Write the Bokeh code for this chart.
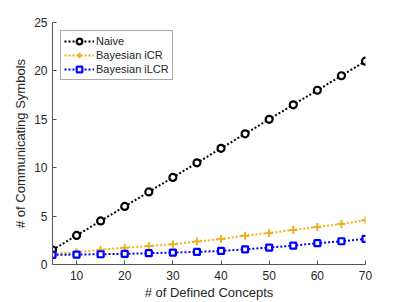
from bokeh.plotting import figure
from bokeh.models import Range1d, FixedTicker, Legend, LegendItem
from bokeh.embed import file_html
from bokeh.resources import INLINE

concepts = [5, 10, 15, 20, 25, 30, 35, 40, 45, 50, 55, 60, 65, 70]
naive = [1.5, 3, 4.5, 6, 7.5, 9, 10.5, 12, 13.5, 15, 16.5, 18, 19.5, 21]
icr = [1.1, 1.27, 1.52, 1.74, 1.9, 2.1, 2.37, 2.64, 2.97, 3.26, 3.57, 3.88, 4.19, 4.57]
ilcr = [1.0, 1.03, 1.06, 1.1, 1.17, 1.23, 1.3, 1.4, 1.57, 1.75, 1.95, 2.2, 2.4, 2.64]
x_ticks = [10, 20, 30, 40, 50, 60, 70]
y_ticks = [0, 5, 10, 15, 20, 25]

FONT = "Liberation Sans"
TXT = "#262626"
LINE = "#555555"

p = figure(width=400, height=302, output_backend="svg", toolbar_location=None,
           x_range=Range1d(5, 70), y_range=Range1d(0, 25),
           min_border_left=52, min_border_right=35, min_border_top=22, min_border_bottom=36)
p.outline_line_color = None
p.grid.visible = False

for ax in (p.xaxis[0], p.yaxis[0]):
    ax.major_tick_in = 4
    ax.major_tick_out = 0
    ax.minor_tick_line_color = None
    ax.axis_line_color = LINE
    ax.major_tick_line_color = LINE
    ax.major_label_text_color = TXT
    ax.major_label_text_font = FONT
    ax.major_label_text_font_size = "12px"
    ax.axis_label_text_font = FONT
    ax.axis_label_text_font_size = "13px"
    ax.axis_label_text_font_style = "normal"
    ax.axis_label_text_color = TXT

p.xaxis.ticker = FixedTicker(ticks=x_ticks)
p.yaxis.ticker = FixedTicker(ticks=y_ticks)
p.xaxis.axis_label = "# of Defined Concepts"
p.yaxis.axis_label = "# of Communicating Symbols"
p.xaxis.major_label_standoff = 6
p.xaxis.axis_label_standoff = 2
p.yaxis.major_label_standoff = 5
p.yaxis.axis_label_standoff = 3

dash = "2 2"
l1 = p.line(concepts, naive, line_color="black", line_width=2, line_dash=dash)
m1 = p.scatter(concepts, naive, marker="circle", size=7, line_color="black", line_width=2.2, fill_color="white")
l2 = p.line(concepts, icr, line_color="#EDB120", line_width=2, line_dash=dash)
m2 = p.scatter(concepts, icr, marker="cross", size=8, line_color="#EDB120", line_width=2)
l3 = p.line(concepts, ilcr, line_color="#0000FF", line_width=2, line_dash=dash)
m3 = p.scatter(concepts, ilcr, marker="square", size=6, line_color="#0000FF", line_width=2.2, fill_color="white")

legend = Legend(items=[
    LegendItem(label="Naive", renderers=[l1, m1]),
    LegendItem(label="Bayesian iCR", renderers=[l2, m2]),
    LegendItem(label="Bayesian iLCR", renderers=[l3, m3]),
], location="top_left")
legend.margin = 8
legend.padding = 3
legend.spacing = 0
legend.label_text_font = FONT
legend.label_text_font_size = "11px"
legend.label_text_color = TXT
legend.label_height = 14
legend.glyph_height = 14
legend.glyph_width = 30
legend.label_standoff = 2
legend.border_line_color = LINE
legend.border_line_width = 1
legend.background_fill_alpha = 1
p.add_layout(legend)

open("out.html", "w").write(file_html(p, INLINE))
